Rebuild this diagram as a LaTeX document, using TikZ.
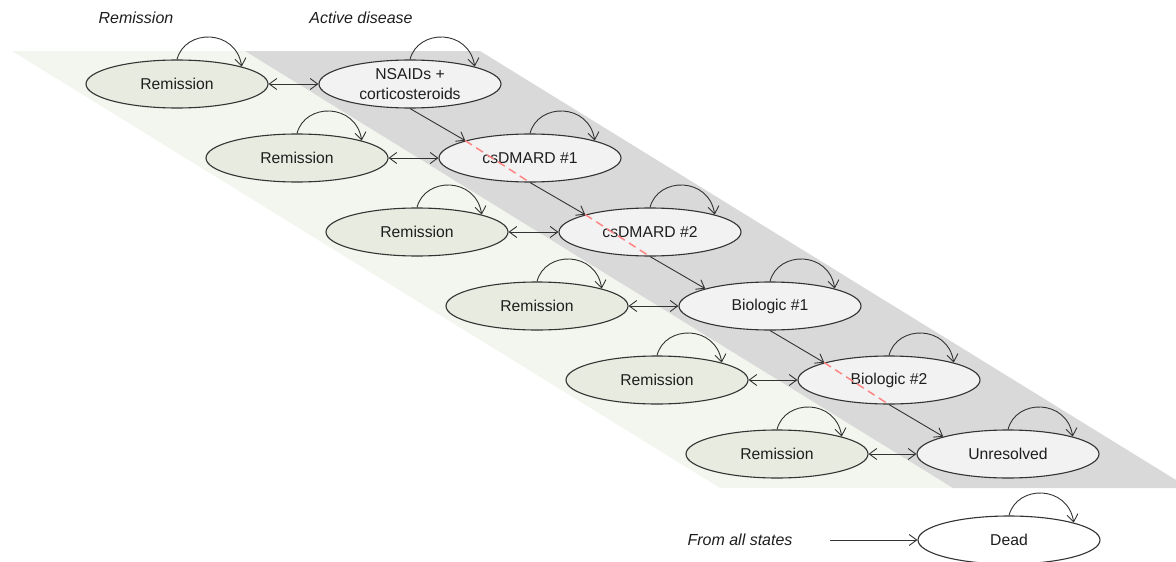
\documentclass[tikz,border=0pt]{standalone}
\usepackage{fontspec}
\setmainfont{Liberation Sans}
\usetikzlibrary{shapes.geometric,arrows.meta}
\definecolor{bandgreen}{HTML}{F3F6EE}
\definecolor{bandgray}{HTML}{D9D9D9}
\definecolor{remfill}{HTML}{E8EBE0}
\definecolor{actfill}{HTML}{F2F2F2}
\definecolor{edgecol}{HTML}{333333}
\definecolor{txtcol}{HTML}{1E1E1E}
\definecolor{reddash}{HTML}{FF8585}
\begin{document}
\begin{tikzpicture}[x=1pt,y=-1pt,
  font=\fontsize{15.7}{20}\selectfont, text=txtcol,
  state/.style={ellipse,draw=edgecol,line width=1.1pt,minimum width=182pt,minimum height=48pt,inner sep=0pt},
  rem/.style={state,fill=remfill},
  act/.style={state,fill=actfill},
  deadst/.style={state,fill=white},
  flow/.style={draw=edgecol,line width=0.9pt,-{Straight Barb[length=7.5pt,width=11pt]}},
  both/.style={draw=edgecol,line width=0.9pt,{Straight Barb[length=7.5pt,width=11pt]}-{Straight Barb[length=7.5pt,width=11pt]}},
  skipline/.style={draw=reddash,line width=1.5pt,dash pattern=on 8pt off 5pt},
  head/.style={font=\fontsize{16}{19}\selectfont\itshape}]
\useasboundingbox (0,0) rectangle (1176,562);
\begin{scope}
\clip (0,0) rectangle (1176,562);
\fill[bandgreen] (12,51) -- (245,51) -- (953,488) -- (720,488) -- cycle;
\fill[bandgray] (245,51) -- (480,51) -- (1189,488) -- (953,488) -- cycle;

\node[head] (hrem) at (136,18) {Remission};
\node[head] (hact) at (361,18) {Active disease};

\node[rem] (r1) at (177,84) {Remission};
\node[rem] (r2) at (297,158) {Remission};
\node[rem] (r3) at (417,232) {Remission};
\node[rem] (r4) at (537,306) {Remission};
\node[rem] (r5) at (657,380) {Remission};
\node[rem] (r6) at (777,454) {Remission};

\node[act,label={[align=center]center:NSAIDs +\\corticosteroids}] (a1) at (410,84) {};
\node[act] (a2) at (530,158) {csDMARD \#1};
\node[act] (a3) at (650,232) {csDMARD \#2};
\node[act] (a4) at (770,306) {Biologic \#1};
\node[act] (a5) at (889,380) {Biologic \#2};
\node[act] (a6) at (1008,454) {Unresolved};

\node[deadst] (dead) at (1009,540) {Dead};
\node[head] (fromlbl) at (740,540) {From all states};
\coordinate (fromend) at (830,540);

\foreach \n in {r1,r2,r3,r4,r5,r6,a1,a2,a3,a4,a5,a6,dead}
  \draw[flow] (\n.north) .. controls +(8,-31) and +(-6,-38) .. (\n.north east);

\foreach \i in {1,...,6}
  \draw[both] (r\i.east) -- (a\i.west);

\draw[flow] (a1.south) -- (a2.north west);
\draw[flow] (a2.south) -- (a3.north west);
\draw[flow] (a3.south) -- (a4.north west);
\draw[flow] (a4.south) -- (a5.north west);
\draw[flow] (a5.south) -- (a6.north west);

\draw[skipline] (a2.north west) -- (a2.south);
\draw[skipline] (a3.north west) -- (a3.south);
\draw[skipline] (a5.north west) -- (a5.south);

\draw[flow] (fromend) -- (dead.west);
\end{scope}
\end{tikzpicture}
\end{document}
